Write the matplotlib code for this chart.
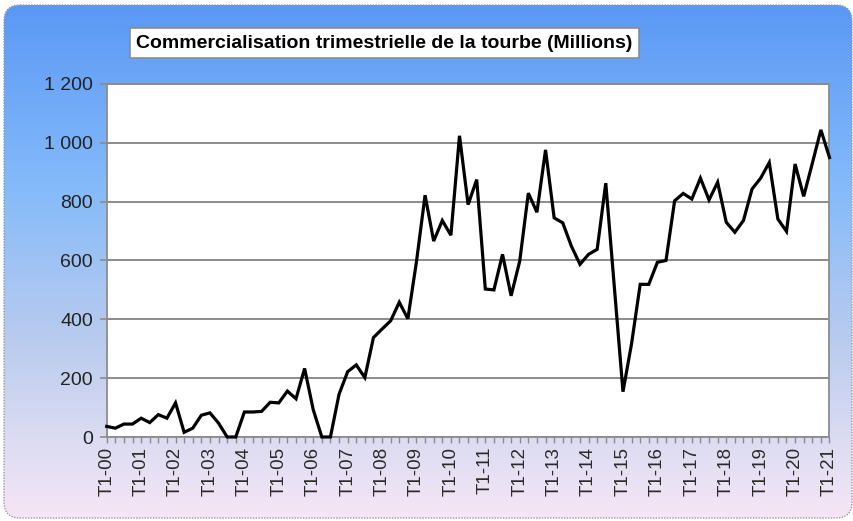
import matplotlib
matplotlib.use("Agg")
import matplotlib.pyplot as plt
import numpy as np
from matplotlib.colors import LinearSegmentedColormap
from matplotlib.patches import FancyBboxPatch
from matplotlib.ticker import FuncFormatter

# ---- data (millions, quarterly T1-00 .. T1-21) ----
years = list(range(0, 22))
quarters = [1, 2, 3, 4]
values = [36, 30, 44, 44, 64, 49, 76, 64, 116, 16,
          30, 74, 82, 47, 0, 0, 85, 85, 87, 118,
          116, 156, 130, 233, 93, 0, 0, 145, 222, 245,
          202, 338, 367, 395, 458, 402, 596, 822, 666, 736,
          686, 1024, 790, 875, 503, 500, 621, 480, 598, 829,
          764, 976, 745, 728, 649, 587, 621, 638, 863, 508,
          154, 318, 519, 519, 594, 600, 803, 828, 809, 880,
          806, 866, 730, 696, 736, 843, 880, 933, 741, 699,
          928, 818, 930, 1044, 950]
labels = [f"T{q}-{y:02d}" for y in years for q in quarters][:len(values)]
title = "Commercialisation trimestrielle de la tourbe (Millions)"

W, H = 854, 521
fig = plt.figure(figsize=(W / 100, H / 100), dpi=100)
fig.patch.set_facecolor("white")

# background: rounded panel with vertical gradient
bg = fig.add_axes([0, 0, 1, 1])
bg.set_xlim(0, W)
bg.set_ylim(H, 0)
bg.axis("off")
cmap = LinearSegmentedColormap.from_list(
    "panel", [(0.0, "#5a98f5"), (0.35, "#84bafa"), (0.65, "#b8cbee"),
              (0.85, "#dcdcf2"), (1.0, "#f6e6f6")])
grad = np.linspace(0, 1, 256).reshape(-1, 1)
im = bg.imshow(grad, cmap=cmap, aspect="auto", extent=[4, 852, 518, 5], zorder=0)
panel = FancyBboxPatch((4, 5), 848, 513, boxstyle="round,pad=0,rounding_size=16",
                       fc="none", ec="#9a9a9a", lw=1.0, ls=(0, (1, 1)), zorder=1)
bg.add_patch(panel)
im.set_clip_path(panel)

# main plot
x0, x1, y0, y1 = 106.7, 829.5, 84, 437
ax = fig.add_axes([x0 / W, 1 - y1 / H, (x1 - x0) / W, (y1 - y0) / H])
ax.set_facecolor("white")
x = np.arange(len(values))
ax.plot(x, values, color="black", lw=2.3, solid_joinstyle="miter", zorder=3, clip_on=False)

ax.set_xlim(0, len(values) - 1)
ax.set_ylim(0, 1200)
ax.set_yticks(range(0, 1201, 200))
ax.yaxis.set_major_formatter(FuncFormatter(lambda v, p: f"{int(v):,}".replace(",", " ")))
ax.grid(axis="y", color="#8c8c8c", lw=1.4)
ax.set_axisbelow(True)

ax.set_xticks(x)
ax.set_xticklabels([lb if lb.startswith("T1") else "" for lb in labels],
                   rotation=90, fontsize=13.5, color="#2a2a2a",
                   family=["Liberation Sans", "DejaVu Sans"])
for t in ax.get_yticklabels():
    t.set_fontsize(14)
    t.set_color("#222222")
    t.set_family(["Liberation Sans", "DejaVu Sans"])
ax.tick_params(axis="x", length=4, width=1, color="#8c8c8c", pad=3)
ax.tick_params(axis="y", length=5, width=1.2, color="#8c8c8c", pad=5)
for s in ax.spines.values():
    s.set_color("#8c8c8c")
    s.set_linewidth(1.3)

fig.text(384.5 / W, 1 - 43 / H, title, ha="center", va="center",
         fontsize=14, fontweight="bold", color="black",
         family=["Liberation Sans", "DejaVu Sans"],
         bbox=dict(boxstyle="square,pad=0.35", fc="white", ec="#8c8c8c", lw=1.2))

fig.savefig("out.png", dpi=100, facecolor=fig.get_facecolor())
plt.close(fig)
